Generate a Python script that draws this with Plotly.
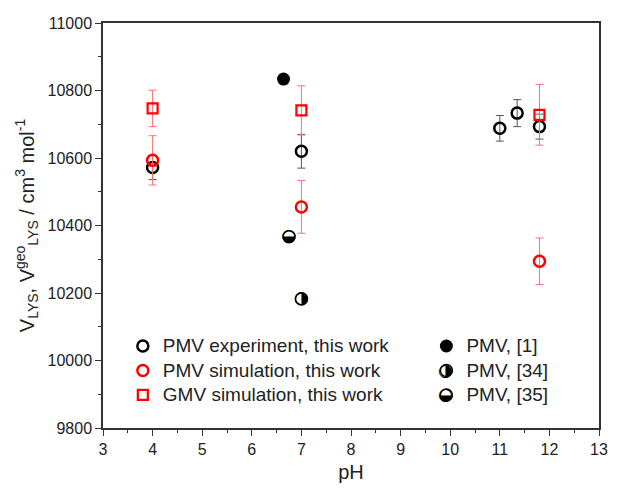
import plotly.graph_objects as go

# ---- data ----
exp_ph = [4.0, 7.0, 11.0, 11.35, 11.8]
exp_v = [10572, 10620, 10688, 10733, 10693]
exp_err = [36, 50, 38, 40, 37]

sim_ph = [4.0, 7.0, 11.8]
sim_v = [10593, 10455, 10294]
sim_err = [73, 78, 69]

gmv_ph = [4.0, 7.0, 11.8]
gmv_v = [10747, 10741, 10728]
gmv_err = [54, 73, 90]

ref1_ph = [6.64]
ref1_v = [10834]
ref34_ph = [7.0]
ref34_v = [10182]
ref35_ph = [6.75]
ref35_v = [10367]

names = [
    "PMV experiment, this work",
    "PMV simulation, this work",
    "GMV simulation, this work",
    "PMV, [1]",
    "PMV, [34]",
    "PMV, [35]",
]

FONT = "Liberation Sans, Arial, sans-serif"
GLYPH_FONT = "DejaVu Sans"
GLYPH_34 = "\u25d1"
GLYPH_35 = "\u25d2"


def big(s):
    return '<span style="font-size:19px">' + s + "</span>"


fig = go.Figure()

fig.add_trace(go.Scatter(
    x=exp_ph, y=exp_v, mode="markers", name=big(names[0]), legend="legend", legendrank=1,
    error_y=dict(type="data", array=exp_err, color="#555555", thickness=1, width=4),
    marker=dict(symbol="circle-open", size=11, color="black", line=dict(width=2.5))))

fig.add_trace(go.Scatter(
    x=gmv_ph, y=gmv_v, mode="markers", name=big(names[2]), legend="legend", legendrank=3,
    error_y=dict(type="data", array=gmv_err, color="#ff7070", thickness=1, width=4),
    marker=dict(symbol="square-open", size=10, color="red", line=dict(width=2.2))))

fig.add_trace(go.Scatter(
    x=sim_ph, y=sim_v, mode="markers", name=big(names[1]), legend="legend", legendrank=2,
    error_y=dict(type="data", array=sim_err, color="#ff7070", thickness=1, width=4),
    marker=dict(symbol="circle-open", size=11, color="red", line=dict(width=2.5))))

fig.add_trace(go.Scatter(
    x=ref1_ph, y=ref1_v, mode="markers", name=big(names[3]), legend="legend2", legendrank=1,
    marker=dict(symbol="circle", size=13, color="black")))

# half-filled markers: white base circle (legend swatch) + glyph overlay
fig.add_trace(go.Scatter(
    x=ref34_ph, y=ref34_v, mode="markers", name=big(names[4]), legend="legend2", legendrank=2,
    marker=dict(symbol="circle", size=12, color="white", line=dict(color="black", width=1.5))))
fig.add_trace(go.Scatter(
    x=ref35_ph, y=ref35_v, mode="markers", name=big(names[5]), legend="legend2", legendrank=3,
    marker=dict(symbol="circle", size=12, color="white", line=dict(color="black", width=1.5))))
fig.add_trace(go.Scatter(
    x=ref34_ph, y=ref34_v, mode="text", text=[GLYPH_34], textposition="middle center",
    textfont=dict(family=GLYPH_FONT, size=17, color="black"), showlegend=False))
fig.add_trace(go.Scatter(
    x=ref35_ph, y=ref35_v, mode="text", text=[GLYPH_35], textposition="middle center",
    textfont=dict(family=GLYPH_FONT, size=17, color="black"), showlegend=False))

legend_font = dict(family=FONT, size=16.5, color="#222222")
fig.update_layout(
    legend=dict(x=0.04, y=0.245, xanchor="left", yanchor="top", font=legend_font,
                bgcolor="rgba(0,0,0,0)", traceorder="normal", itemsizing="trace"),
    legend2=dict(x=0.652, y=0.245, xanchor="left", yanchor="top", font=legend_font,
                 bgcolor="rgba(0,0,0,0)", traceorder="normal", itemsizing="trace"),
)

# glyphs on top of the legend swatches of the half-filled entries
for g, yy in [(GLYPH_34, 0.1425), (GLYPH_35, 0.0835)]:
    fig.add_annotation(xref="paper", yref="paper", x=0.691, y=yy, text=g,
                       showarrow=False, xanchor="center", yanchor="middle",
                       font=dict(family=GLYPH_FONT, size=17, color="black"))

axis_common = dict(
    showline=True, linecolor="#333333", linewidth=1.5, mirror=True,
    ticks="outside", ticklen=6, tickwidth=1.2, tickcolor="#333333",
    showgrid=False, zeroline=False,
    tickfont=dict(family=FONT, size=16, color="#222222"),
)

fig.update_xaxes(range=[3, 13], dtick=1, tick0=3, tickformat="d",
                 minor=dict(ticks="outside", dtick=0.5, ticklen=3, tickcolor="#333333"),
                 title=dict(text="pH", font=dict(family=FONT, size=20, color="#222222"), standoff=8),
                 **axis_common)
fig.update_yaxes(range=[9800, 11000], dtick=200, tick0=9800, tickformat="d",
                 minor=dict(ticks="outside", dtick=100, ticklen=3, tickcolor="#333333"),
                 title=dict(text="V<sub>LYS</sub>, V<sup>geo</sup><sub>LYS</sub> / cm<sup>3</sup> mol<sup>-1</sup>",
                            font=dict(family=FONT, size=20, color="#222222"), standoff=8),
                 **axis_common)

fig.update_layout(
    width=620, height=492,
    margin=dict(l=103, r=12, t=23, b=62),
    plot_bgcolor="white", paper_bgcolor="white",
    showlegend=True,
)

fig.write_html("out.html")
